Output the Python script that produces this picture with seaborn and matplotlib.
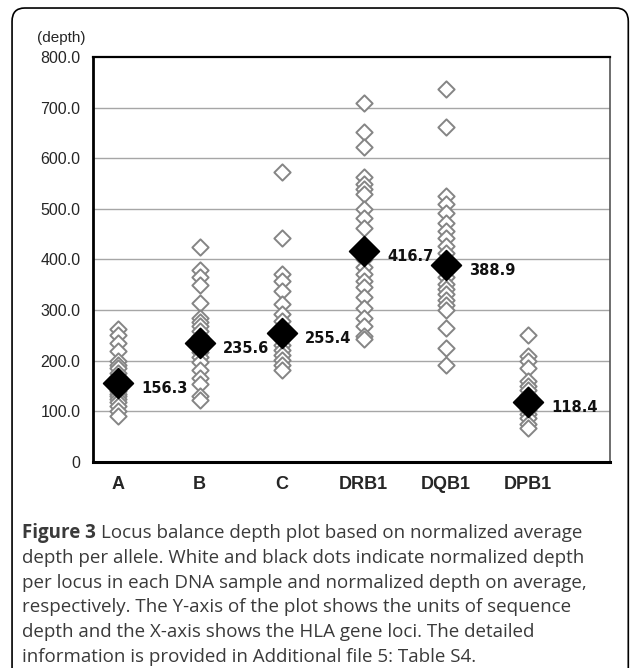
import seaborn as sns
import matplotlib.pyplot as plt
import pandas as pd
from matplotlib.patches import FancyBboxPatch

# loci and per-sample normalized depth
loci = ["A", "B", "C", "DRB1", "DQB1", "DPB1"]
depth_A = [263, 250, 235, 220, 200, 192, 185, 176, 168, 160, 152, 146, 140, 135,
           130, 125, 118, 110, 100, 90]
depth_B = [425, 380, 365, 350, 315, 285, 277, 268, 258, 248, 238, 228, 218, 208,
           198, 182, 165, 155, 130, 122]
depth_C = [572, 443, 372, 357, 337, 312, 292, 278, 265, 252, 242, 232, 222, 212,
           202, 192, 182]
depth_DRB1 = [710, 652, 622, 562, 550, 540, 530, 500, 482, 462, 400, 386, 372, 357,
              345, 325, 305, 285, 268, 248, 242]
depth_DQB1 = [737, 662, 525, 510, 492, 472, 457, 442, 427, 412, 396, 380, 366, 352,
              342, 332, 320, 310, 300, 265, 225, 192]
depth_DPB1 = [250, 210, 200, 185, 160, 150, 142, 132, 122, 112, 102, 95, 86, 76, 68]
mean_depth = [156.3, 235.6, 255.4, 416.7, 388.9, 118.4]

samples = pd.DataFrame({
    "locus": sum([[l] * len(v) for l, v in zip(loci, [depth_A, depth_B, depth_C,
                  depth_DRB1, depth_DQB1, depth_DPB1])], []),
    "depth": depth_A + depth_B + depth_C + depth_DRB1 + depth_DQB1 + depth_DPB1,
})
means = pd.DataFrame({"locus": loci, "depth": mean_depth})

sns.set_style("white")
fig = plt.figure(figsize=(6.34, 6.68), dpi=100)
ax = fig.add_axes([0.1467, 0.3084, 0.815, 0.6063])

# white diamonds per sample
sns.stripplot(data=samples, x="locus", y="depth", order=loci, jitter=False,
              marker="D", size=8.3, color="white", edgecolor="#858585",
              linewidth=1.4, ax=ax, zorder=3)
# black diamonds for mean
sns.scatterplot(data=means, x="locus", y="depth", marker="D", s=230,
                color="black", edgecolor="black", ax=ax, zorder=4)

for i, (l, m) in enumerate(zip(loci, mean_depth)):
    ax.annotate(f"{m:.1f}", (i, m), xytext=(17, -4), textcoords="offset points",
                ha="left", va="center", fontsize=10.5, fontweight="bold",
                family="DejaVu Sans", color="#111111")

ax.set_xlim(-0.3, 6.0)
ax.set_ylim(0, 800)
ax.set_yticks(range(0, 801, 100))
ax.set_yticklabels(["0"] + [f"{v:.1f}" for v in range(100, 801, 100)],
                   family="Liberation Sans", fontsize=11.5)
ax.set_xticks(range(len(loci)))
ax.set_xticklabels(loci, family="Liberation Sans", fontsize=13, fontweight="bold")
ax.tick_params(axis="both", length=0)
ax.tick_params(axis="x", pad=10)
ax.tick_params(axis="y", pad=9)
ax.set_xlabel("")
ax.set_ylabel("")
for y in range(100, 800, 100):
    ax.axhline(y, color="#a6a6a6", lw=1, zorder=1)

ax.spines["left"].set_linewidth(2)
ax.spines["bottom"].set_linewidth(2.2)
ax.spines["top"].set_linewidth(1.6)
ax.spines["right"].set_linewidth(1.2)
ax.spines["right"].set_color("#555555")
for s in ["left", "bottom", "top"]:
    ax.spines[s].set_color("black")

fig.text(0.096, 1 - 38 / 668, "(depth)", family="Liberation Sans", fontsize=11,
         ha="center", va="center")

# outer rounded frame
frame = FancyBboxPatch((0.019, -0.05), 0.972, 1.038,
                       boxstyle="round,pad=0,rounding_size=0.02",
                       transform=fig.transFigure, fill=False,
                       edgecolor="black", linewidth=1.2)
fig.patches.append(frame)

caption = [
    "depth per allele. White and black dots indicate normalized depth",
    "per locus in each DNA sample and normalized depth on average,",
    "respectively. The Y-axis of the plot shows the units of sequence",
    "depth and the X-axis shows the HLA gene loci. The detailed",
    "information is provided in Additional file 5: Table S4.",
]
cap_font = dict(family="Open Sans", fontsize=13.5, color="#3a3a3a")
t = fig.text(0.035, 1 - 533 / 668, "Figure 3", fontweight="bold", va="center",
             **cap_font)
fig.canvas.draw()
bb = t.get_window_extent()
fig.text(bb.x1 / fig.bbox.width + 0.008, 1 - 533 / 668,
         "Locus balance depth plot based on normalized average",
         va="center", **cap_font)
for k, line in enumerate(caption):
    fig.text(0.035, 1 - (558 + 24.7 * k) / 668, line, va="center", **cap_font)

fig.savefig("out.png", dpi=100)
